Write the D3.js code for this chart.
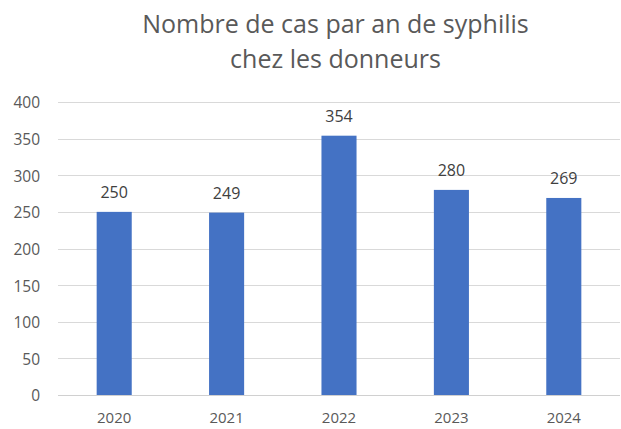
<!DOCTYPE html>
<html>
<head>
<meta charset="utf-8">
<script src="https://cdn.jsdelivr.net/npm/d3@7"></script>
<style>
  html, body { margin: 0; padding: 0; background: #fff; }
  svg { display: block; }
</style>
</head>
<body>
<svg id="chart" width="621" height="429"></svg>
<script>
// Cases per year
const years = ["2020", "2021", "2022", "2023", "2024"];
const cases = [250, 249, 354, 280, 269];
const yTicks = [0, 50, 100, 150, 200, 250, 300, 350, 400];
const titleLines = ["Nombre de cas par an de syphilis", "chez les donneurs"];

const W = 621, H = 429;
const margin = { top: 102, right: 1, bottom: 34, left: 58 };
const font = "'Open Sans', 'Liberation Sans', sans-serif";

const svg = d3.select("#chart");

const x = d3.scaleBand()
  .domain(years)
  .range([margin.left, W - margin.right])
  .paddingInner(0.688)
  .paddingOuter(0.344);

const y = d3.scaleLinear()
  .domain([0, 400])
  .range([H - margin.bottom, margin.top]);

// Title
svg.append("g")
  .selectAll("text")
  .data(titleLines)
  .join("text")
  .attr("x", 335.5)
  .attr("y", (d, i) => 33 + i * 35)
  .attr("text-anchor", "middle")
  .attr("fill", "#595959")
  .style("font-family", font)
  .style("font-size", "25px")
  .text(d => d);

// Horizontal gridlines
svg.append("g")
  .selectAll("line")
  .data(yTicks)
  .join("line")
  .attr("x1", margin.left)
  .attr("x2", W - margin.right)
  .attr("y1", d => Math.round(y(d)) + 0.5)
  .attr("y2", d => Math.round(y(d)) + 0.5)
  .attr("stroke", d => d === 0 ? "#d0d0d0" : "#d9d9d9")
  .attr("stroke-width", 1);

// Y axis labels
const yAxis = svg.append("g")
  .attr("transform", `translate(${margin.left - 18},1)`)
  .call(d3.axisLeft(y).tickValues(yTicks).tickSize(0).tickPadding(0));
yAxis.select(".domain").remove();
yAxis.selectAll("text")
  .attr("fill", "#595959")
  .style("font-family", font)
  .style("font-size", "15.5px");

// X axis labels
const xAxis = svg.append("g")
  .attr("transform", `translate(0,${H - margin.bottom})`)
  .call(d3.axisBottom(x).tickSize(0).tickPadding(17));
xAxis.select(".domain").remove();
xAxis.selectAll("text")
  .attr("fill", "#595959")
  .style("font-family", font)
  .style("font-size", "15px");

// Bars
svg.append("g")
  .selectAll("rect")
  .data(years.map((yr, i) => ({ yr, v: cases[i] })))
  .join("rect")
  .attr("x", d => x(d.yr))
  .attr("width", x.bandwidth())
  .attr("y", d => y(d.v))
  .attr("height", d => y(0) - y(d.v))
  .attr("fill", "#4472c4");

// Value labels
svg.append("g")
  .selectAll("text")
  .data(years.map((yr, i) => ({ yr, v: cases[i] })))
  .join("text")
  .attr("x", d => x(d.yr) + x.bandwidth() / 2)
  .attr("y", d => y(d.v) - 14)
  .attr("text-anchor", "middle")
  .attr("fill", "#404040")
  .style("font-family", font)
  .style("font-size", "16px")
  .text(d => d.v);
</script>
</body>
</html>
